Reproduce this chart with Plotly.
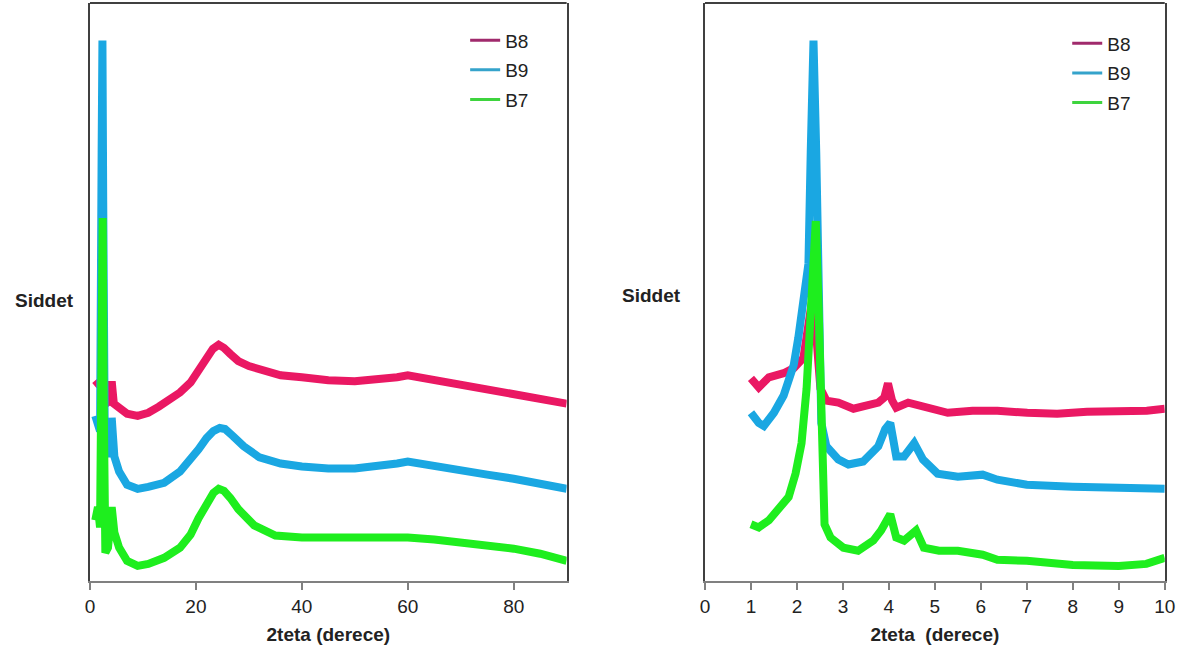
import plotly.graph_objects as go

# ---------- Data (intensity in arbitrary units) ----------
series_names = ["B8", "B9", "B7"]

# Left panel: 2theta 0-90
left_b8_x = [1.0, 1.8, 2.3, 3.0, 3.8, 4.1, 4.5, 5.5, 7, 9, 11, 13, 15, 17, 19, 20.5, 22, 23.2, 24.3, 25.3, 26.5, 28, 30, 33, 36, 40, 45, 50, 55, 58, 60, 62, 65, 70, 75, 80, 85, 90]
left_b8_y = [198, 193, 201, 175, 178, 197, 175, 171, 165, 163, 166, 172, 178, 186, 196, 207, 220, 229, 233, 230, 224, 217, 212, 207, 203, 201, 198, 197, 199, 201, 203, 201, 198, 193, 188, 183, 180, 175]

left_b9_x = [1.0, 1.5, 1.9, 2.2, 2.35, 2.5, 2.8, 3.3, 3.8, 4.1, 4.6, 5.5, 7, 9, 11, 14, 17, 19, 20.5, 22, 23.3, 24.5, 25.5, 27, 29, 32, 36, 40, 45, 50, 55, 58, 60, 62, 65, 70, 75, 80, 85, 90]
left_b9_y = [163, 153, 148, 423, 533, 373, 133, 123, 133, 161, 123, 108, 95, 91, 93, 97, 108, 119, 130, 141, 148, 151, 150, 143, 133, 122, 116, 113, 111, 111, 113, 116, 118, 116, 113, 108, 105, 101, 97, 91]

left_b7_x = [1.0, 1.5, 1.9, 2.2, 2.4, 2.6, 2.9, 3.4, 3.9, 4.1, 4.6, 5.5, 7, 9, 11, 14, 17, 19, 20.5, 22, 23.3, 24.3, 25.3, 26.5, 28, 31, 35, 40, 45, 50, 55, 60, 65, 70, 75, 80, 85, 90]
left_b7_y = [60, 73, 53, 173, 358, 173, 28, 33, 53, 73, 48, 33, 20, 15, 17, 23, 33, 46, 62, 77, 87, 91, 89, 82, 71, 55, 45, 43, 43, 43, 42, 43, 41, 38, 35, 32, 27, 20]

# Right panel: 2theta 0-10
right_b8_x = [1.0, 1.17, 1.39, 1.71, 1.93, 2.14, 2.25, 2.34, 2.42, 2.51, 2.64, 2.90, 3.23, 3.55, 3.77, 3.90, 3.98, 4.07, 4.16, 4.42, 4.85, 5.28, 5.82, 6.36, 7.01, 7.66, 8.31, 8.96, 9.61, 10.0]
right_b8_y = [200, 191, 201, 205, 210, 220, 253, 280, 243, 190, 178, 176, 170, 173, 176, 181, 195, 178, 171, 176, 170, 166, 168, 168, 166, 165, 167, 167, 168, 170]

right_b9_x = [1.0, 1.17, 1.28, 1.5, 1.71, 1.93, 2.03, 2.14, 2.25, 2.30, 2.36, 2.42, 2.48, 2.53, 2.64, 2.90, 3.12, 3.44, 3.77, 3.92, 4.03, 4.16, 4.33, 4.55, 4.74, 5.06, 5.50, 6.04, 6.36, 7.0, 8.0, 9.0, 10.0]
right_b9_y = [166, 156, 153, 166, 183, 213, 240, 273, 313, 423, 533, 423, 243, 156, 133, 120, 115, 118, 133, 150, 156, 123, 123, 136, 120, 106, 103, 105, 100, 95, 93, 92, 91]

right_b7_x = [1.0, 1.17, 1.39, 1.6, 1.82, 1.97, 2.10, 2.21, 2.30, 2.36, 2.41, 2.47, 2.53, 2.60, 2.73, 3.01, 3.33, 3.66, 3.83, 4.03, 4.16, 4.33, 4.59, 4.76, 5.09, 5.5, 6.04, 6.36, 7.0, 8.0, 9.0, 9.6, 10.0]
right_b7_y = [56, 53, 60, 70, 83, 106, 136, 190, 253, 313, 355, 273, 123, 56, 43, 33, 30, 40, 50, 66, 43, 40, 50, 33, 30, 30, 26, 21, 20, 16, 15, 17, 23]

left_ticks = [0, 20, 40, 60, 80]
right_ticks = [0, 1, 2, 3, 4, 5, 6, 7, 8, 9, 10]
x_title_left = "2teta (derece)"
x_title_right = "2teta  (derece)"
y_title = "Siddet"

# ---------- Styles ----------
data_colors = ["#EA1863", "#1AA7E2", "#1EEE1E"]
legend_colors = ["#A02A6C", "#35A3CB", "#3ED43E"]
FONT = "Liberation Sans, Arial, sans-serif"
LW = 8

fig = go.Figure()

left = [(left_b8_x, left_b8_y), (left_b9_x, left_b9_y), (left_b7_x, left_b7_y)]
right = [(right_b8_x, right_b8_y), (right_b9_x, right_b9_y), (right_b7_x, right_b7_y)]

for i, name in enumerate(series_names):
    fig.add_trace(go.Scatter(x=left[i][0], y=left[i][1], mode="lines", name=name,
                             line=dict(color=data_colors[i], width=LW),
                             showlegend=False, xaxis="x", yaxis="y"))
for i, name in enumerate(series_names):
    fig.add_trace(go.Scatter(x=right[i][0], y=right[i][1], mode="lines", name=name,
                             line=dict(color=data_colors[i], width=LW),
                             showlegend=False, xaxis="x2", yaxis="y2"))
# legend entries
for i, name in enumerate(series_names):
    fig.add_trace(go.Scatter(x=[None], y=[None], mode="lines", name=name,
                             line=dict(color=legend_colors[i], width=3),
                             legend="legend", legendgroup="L" + name, xaxis="x", yaxis="y"))
for i, name in enumerate(series_names):
    fig.add_trace(go.Scatter(x=[None], y=[None], mode="lines", name=name,
                             line=dict(color=legend_colors[i], width=3),
                             legend="legend2", legendgroup="R" + name, xaxis="x2", yaxis="y2"))

W, H = 1193, 659
# map target picture pixels to paper fractions (compensates the slight capture scaling)
def px(v):
    return ((v - 2.6) / 0.9914) / W
def py(v):
    return 1 - (v / 0.986) / H

xaxis_common = dict(showgrid=False, zeroline=False, showline=True, linecolor="#808080", linewidth=1.5,
                    ticks="outside", ticklen=7, tickcolor="#808080", tickwidth=1.5,
                    tickfont=dict(family=FONT, size=19, color="#222"),
                    title_font=dict(family=FONT, size=19, color="#222"), title_standoff=12)
yaxis_common = dict(showgrid=False, zeroline=False, showline=True, linecolor="#404040", linewidth=2,
                    mirror=True, showticklabels=False, ticks="", range=[0, 570])

fig.update_layout(
    width=W, height=H, margin=dict(l=0, r=0, t=0, b=0),
    paper_bgcolor="white", plot_bgcolor="white",
    xaxis=dict(domain=[px(88), px(567)], range=[0, 90], tickvals=left_ticks,
               title_text="<b>" + x_title_left + "</b>", anchor="y", **xaxis_common),
    yaxis=dict(domain=[py(573), py(3)], anchor="x", **yaxis_common),
    xaxis2=dict(domain=[px(706), px(1168)], range=[0, 10], tickvals=right_ticks,
                title_text="<b>" + x_title_right + "</b>", anchor="y2", **xaxis_common),
    yaxis2=dict(domain=[py(573), py(3)], anchor="x2", **yaxis_common),
    legend=dict(x=px(465), y=py(21), xanchor="left", yanchor="top",
                font=dict(family=FONT, size=19, color="#222"), bgcolor="rgba(0,0,0,0)",
                tracegroupgap=2, itemwidth=30),
    legend2=dict(x=px(1070), y=py(24), xanchor="left", yanchor="top",
                 font=dict(family=FONT, size=19, color="#222"), bgcolor="rgba(0,0,0,0)",
                 tracegroupgap=2, itemwidth=30),
    shapes=[
        dict(type="line", xref="x domain", yref="y domain", x0=0, x1=1, y0=1, y1=1,
             line=dict(color="#404040", width=2)),
        dict(type="line", xref="x2 domain", yref="y2 domain", x0=0, x1=1, y0=1, y1=1,
             line=dict(color="#404040", width=2)),
    ],
    annotations=[
        dict(text="<b>" + y_title + "</b>", x=px(42), y=py(296), xref="paper", yref="paper",
             xanchor="center", yanchor="middle",
             showarrow=False, font=dict(family=FONT, size=19, color="#222")),
        dict(text="<b>" + y_title + "</b>", x=px(652), y=py(291), xref="paper", yref="paper",
             xanchor="center", yanchor="middle",
             showarrow=False, font=dict(family=FONT, size=19, color="#222")),
    ],
)

fig.write_html(
    "out.html",
    config={"displayModeBar": False},
    post_script=("document.documentElement.style.overflow='hidden';"
                 "document.body.style.margin='0';document.body.style.overflow='hidden';"),
)
